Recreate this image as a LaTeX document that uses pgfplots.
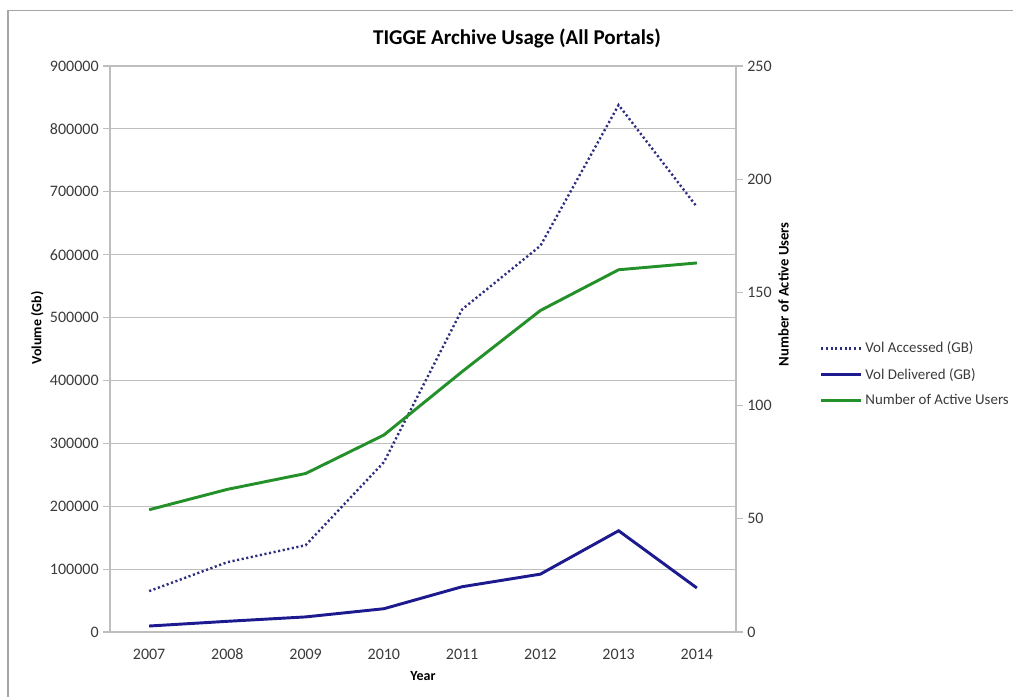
\documentclass[border=0pt]{standalone}
\usepackage{pgfplots}
\pgfplotsset{compat=1.18}
\usepackage{fontspec}
\setmainfont{Carlito}
\definecolor{accblue}{HTML}{2E2E80}
\definecolor{delblue}{HTML}{1C1A8E}
\definecolor{usrgreen}{HTML}{24902A}
\definecolor{gridgray}{HTML}{BEBEBE}
\definecolor{textgray}{HTML}{3A3A3A}

% 1 px of the reference = 0.75pt
\begin{document}
\begin{tikzpicture}
\useasboundingbox (0,0) rectangle (759.75pt,522pt);
\draw[gray!70, line width=1.2pt] (6pt,-10pt) rectangle (770pt,514pt);
\node[font=\fontsize{15.8}{18}\selectfont\bfseries] at (387.75pt,493.5pt) {TIGGE Archive Usage (All Portals)};

\begin{axis}[
  at={(82.5pt,48pt)}, anchor=south west,
  scale only axis, width=469.5pt, height=424.5pt,
  xmin=-0.5, xmax=7.5, ymin=0, ymax=900000,
  axis y line*=left, axis x line*=bottom,
  xtick={0,...,7}, xticklabels={2007,2008,2009,2010,2011,2012,2013,2014},
  extra x ticks={-0.5,0.5,...,7.5}, extra x tick labels={},
  extra x tick style={major tick length=5pt, tick style={gridgray}, tick pos=left},
  major x tick style={draw=none},
  ytick={0,100000,...,900000},
  scaled y ticks=false,
  yticklabel style={/pgf/number format/.cd, fixed, 1000 sep={}},
  /pgf/number format/assume math mode=true,
  ymajorgrids, grid style={gridgray, line width=0.8pt},
  axis line style={gridgray, line width=0.8pt},
  tick style={gridgray, line width=0.8pt},
  major tick length=5pt,
  tick align=outside,
  every tick label/.append style={font=\fontsize{12}{14}\selectfont, text=textgray},
  xticklabel style={yshift=-4pt},
  xlabel={Year}, xlabel style={font=\fontsize{10.5}{12}\selectfont\bfseries, yshift=8pt},
  ylabel={Volume (Gb)}, ylabel style={font=\fontsize{10.5}{12}\selectfont\bfseries,
    at={(ticklabel cs:0.537)}, yshift=-2pt},
  legend style={draw=none, fill=none, at={(rel axis cs:1.127,0.455)}, anchor=west,
    font=\fontsize{11.2}{13}\selectfont, text=textgray, row sep=6pt, legend cell align=left},
  legend image code/.code={\draw[#1] (0pt,0pt) -- (30pt,0pt);},
]
\addplot[accblue, line width=1.8pt, dash pattern=on 1.6pt off 1.9pt, line cap=butt]
  coordinates {(0,65000) (1,111000) (2,138000) (3,270000) (4,513000) (5,614000) (6,838000) (7,676000)};
\addlegendentry{Vol Accessed (GB)}
\addplot[delblue, line width=2.2pt]
  coordinates {(0,9500) (1,17000) (2,24000) (3,37000) (4,72000) (5,92000) (6,161000) (7,70000)};
\addlegendentry{Vol Delivered (GB)}
\addlegendimage{usrgreen, line width=2.2pt}
\addlegendentry{Number of Active Users}
\end{axis}

\begin{axis}[
  at={(82.5pt,48pt)}, anchor=south west,
  scale only axis, width=469.5pt, height=424.5pt,
  xmin=-0.5, xmax=7.5, ymin=0, ymax=250,
  axis y line*=right, axis x line=none,
  ytick={0,50,...,250},
  /pgf/number format/assume math mode=true,
  axis line style={gridgray, line width=0.8pt},
  tick style={gridgray, line width=0.8pt},
  major tick length=5pt, tick align=outside,
  every tick label/.append style={font=\fontsize{12}{14}\selectfont, text=textgray},
  ylabel={Number of Active Users},
  ylabel style={font=\fontsize{11}{13}\selectfont\bfseries, at={(ticklabel cs:0.597)}, yshift=2pt},
]
\addplot[usrgreen, line width=2.2pt]
  coordinates {(0,54) (1,63) (2,70) (3,87) (4,115) (5,142) (6,160) (7,163)};
\end{axis}
\end{tikzpicture}
\end{document}
